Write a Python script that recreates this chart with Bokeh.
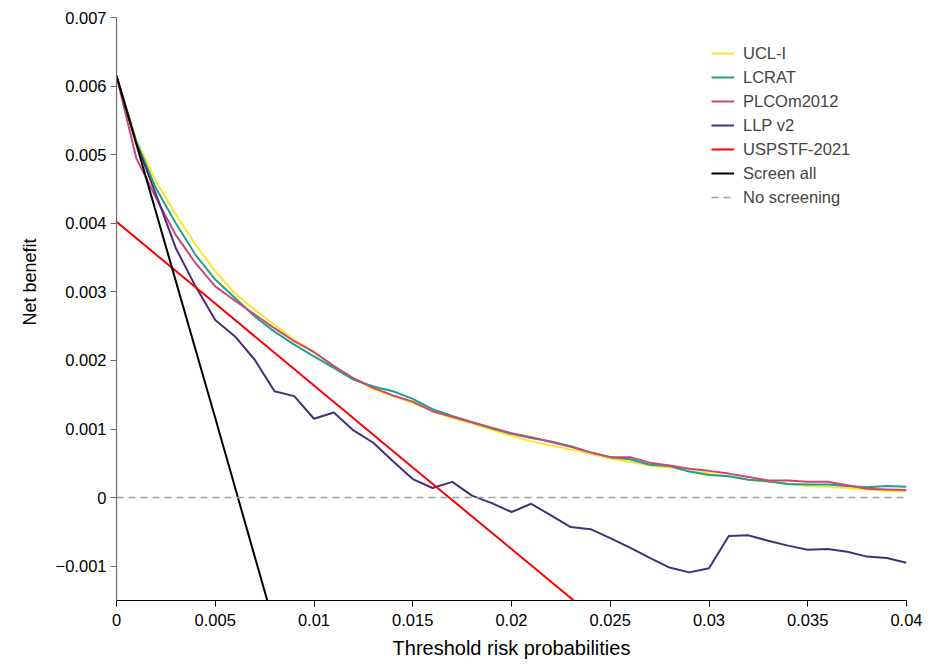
from bokeh.plotting import figure
from bokeh.models import FixedTicker, CustomJSTickFormatter, Legend, LegendItem, Range1d, Title
from bokeh.embed import file_html
from bokeh.resources import INLINE

# ---- data (net benefit values) ----
thresholds = [0.000, 0.001, 0.002, 0.003, 0.004, 0.005, 0.006, 0.007, 0.008, 0.009,
              0.010, 0.011, 0.012, 0.013, 0.014, 0.015, 0.016, 0.017, 0.018, 0.019,
              0.020, 0.021, 0.022, 0.023, 0.024, 0.025, 0.026, 0.027, 0.028, 0.029,
              0.030, 0.031, 0.032, 0.033, 0.034, 0.035, 0.036, 0.037, 0.038, 0.039,
              0.040]

ucl_i = [6.15, 5.22, 4.61, 4.13, 3.69, 3.30, 2.98, 2.74, 2.52, 2.30,
         2.13, 1.91, 1.74, 1.58, 1.48, 1.38, 1.26, 1.16, 1.08, 0.99,
         0.90, 0.82, 0.76, 0.70, 0.64, 0.57, 0.52, 0.47, 0.44, 0.39,
         0.35, 0.31, 0.26, 0.23, 0.20, 0.17, 0.16, 0.14, 0.12, 0.10,
         0.09]

lcrat = [6.15, 5.19, 4.51, 4.00, 3.54, 3.18, 2.91, 2.64, 2.42, 2.23,
         2.06, 1.89, 1.72, 1.62, 1.55, 1.44, 1.29, 1.19, 1.10, 1.01,
         0.93, 0.87, 0.82, 0.75, 0.66, 0.59, 0.56, 0.48, 0.46, 0.38,
         0.33, 0.31, 0.26, 0.24, 0.20, 0.19, 0.19, 0.17, 0.15, 0.17,
         0.16]

plcom2012 = [6.15, 4.95, 4.37, 3.83, 3.42, 3.08, 2.87, 2.67, 2.47, 2.28,
             2.12, 1.92, 1.74, 1.60, 1.49, 1.40, 1.26, 1.18, 1.10, 1.02,
             0.94, 0.88, 0.81, 0.74, 0.66, 0.59, 0.59, 0.51, 0.47, 0.42,
             0.39, 0.35, 0.30, 0.25, 0.25, 0.23, 0.23, 0.18, 0.13, 0.12,
             0.11]

llp_v2 = [6.15, 5.17, 4.42, 3.64, 3.08, 2.59, 2.35, 2.01, 1.55, 1.48,
          1.15, 1.24, 0.98, 0.80, 0.53, 0.27, 0.14, 0.23, 0.03, -0.08,
          -0.21, -0.09, -0.26, -0.43, -0.46, -0.59, -0.73, -0.88, -1.02, -1.09,
          -1.03, -0.56, -0.55, -0.63, -0.70, -0.76, -0.75, -0.79, -0.86, -0.88,
          -0.95]

screen_all_x = [0.000, 0.001, 0.002, 0.003, 0.004, 0.005, 0.006, 0.007, 0.008]
screen_all = [6.15, 5.16, 4.16, 3.16, 2.16, 1.16, 0.15, -0.86, -1.87]

uspstf_x = [0.000, 0.005, 0.010, 0.015, 0.020, 0.025]
uspstf = [4.02, 2.83, 1.635, 0.44, -0.75, -1.94]

no_screen_x = [0.0, 0.04]
no_screen = [0.0, 0.0]

x_ticks = [0, 0.005, 0.01, 0.015, 0.02, 0.025, 0.03, 0.035, 0.04]
x_tick_labels = ["0", "0.005", "0.01", "0.015", "0.02", "0.025", "0.03", "0.035", "0.04"]
y_ticks = [-0.001, 0, 0.001, 0.002, 0.003, 0.004, 0.005, 0.006, 0.007]
y_tick_labels = ["\u22120.001", "0", "0.001", "0.002", "0.003", "0.004", "0.005", "0.006", "0.007"]

SCALE = 1e-3
FONT = "Liberation Sans"

p = figure(frame_width=790, frame_height=583, output_backend="svg", toolbar_location=None,
           x_range=Range1d(0, 0.04), y_range=Range1d(-0.0015, 0.007),
           min_border_left=116, min_border_top=17, min_border_right=20, min_border_bottom=40)
p.outline_line_color = None
p.grid.visible = False
p.background_fill_color = "white"
p.border_fill_color = "white"

fmt_code = """
for (let i = 0; i < vals.length; i++) { if (Math.abs(vals[i] - tick) < 1e-9) return labs[i]; }
return "";
"""

p.xaxis.ticker = FixedTicker(ticks=x_ticks)
p.xaxis.formatter = CustomJSTickFormatter(args=dict(vals=x_ticks, labs=x_tick_labels), code=fmt_code)
p.yaxis.ticker = FixedTicker(ticks=y_ticks)
p.yaxis.formatter = CustomJSTickFormatter(args=dict(vals=y_ticks, labs=y_tick_labels), code=fmt_code)

for ax in (p.xaxis[0], p.yaxis[0]):
    ax.major_tick_in = 0
    ax.major_tick_out = 6
    ax.minor_tick_line_color = None
    ax.major_label_text_font = FONT
    ax.major_label_text_font_size = "16.5px"
    ax.major_label_text_color = "black"
    ax.axis_label_text_font = FONT
    ax.axis_label_text_font_style = "normal"
    ax.axis_label_text_color = "black"
    ax.axis_line_width = 1.2

p.xaxis.axis_label = "Threshold risk probabilities"
p.xaxis.axis_label_text_font_size = "20px"
p.xaxis.axis_line_color = "black"
p.xaxis.major_tick_line_color = "black"
p.yaxis.axis_line_color = "#6e6e6e"
p.yaxis.major_tick_line_color = "#6e6e6e"
p.xaxis.major_label_standoff = 7
p.yaxis.major_label_standoff = 4
p.xaxis.axis_label_standoff = 8

# y axis title, positioned a little above the frame centre as in the reference
p.add_layout(Title(text="Net benefit", align="left", offset=275, standoff=25,
                   text_font=FONT, text_font_size="18px", text_font_style="normal",
                   text_color="black"), "left")

def scaled(vals):
    return [v * SCALE for v in vals]

r_ucl = p.line(thresholds, scaled(ucl_i), line_color="#FDE725", line_width=2)
r_lcrat = p.line(thresholds, scaled(lcrat), line_color="#1FA187", line_width=2)
r_plco = p.line(thresholds, scaled(plcom2012), line_color="#CC4778", line_width=2)
r_llp = p.line(thresholds, scaled(llp_v2), line_color="#472D7B", line_width=2)
r_usp = p.line(uspstf_x, scaled(uspstf), line_color="#FF0000", line_width=2)
r_all = p.line(screen_all_x, scaled(screen_all), line_color="black", line_width=2)
r_none = p.line(no_screen_x, no_screen, line_color="#A0A0A0", line_width=1.5, line_dash="7 5")

legend = Legend(items=[
    LegendItem(label="UCL-I", renderers=[r_ucl]),
    LegendItem(label="LCRAT", renderers=[r_lcrat]),
    LegendItem(label="PLCOm2012", renderers=[r_plco]),
    LegendItem(label="LLP v2", renderers=[r_llp]),
    LegendItem(label="USPSTF-2021", renderers=[r_usp]),
    LegendItem(label="Screen all", renderers=[r_all]),
    LegendItem(label="No screening", renderers=[r_none]),
], location=(595, 393))
legend.border_line_color = None
legend.background_fill_alpha = 0
legend.padding = 0
legend.margin = 0
legend.spacing = 4
legend.glyph_width = 23
legend.glyph_height = 20
legend.label_height = 20
legend.label_standoff = 9
legend.label_text_font = FONT
legend.label_text_font_size = "16.5px"
p.add_layout(legend)

open("out.html", "w").write(file_html(p, INLINE))
